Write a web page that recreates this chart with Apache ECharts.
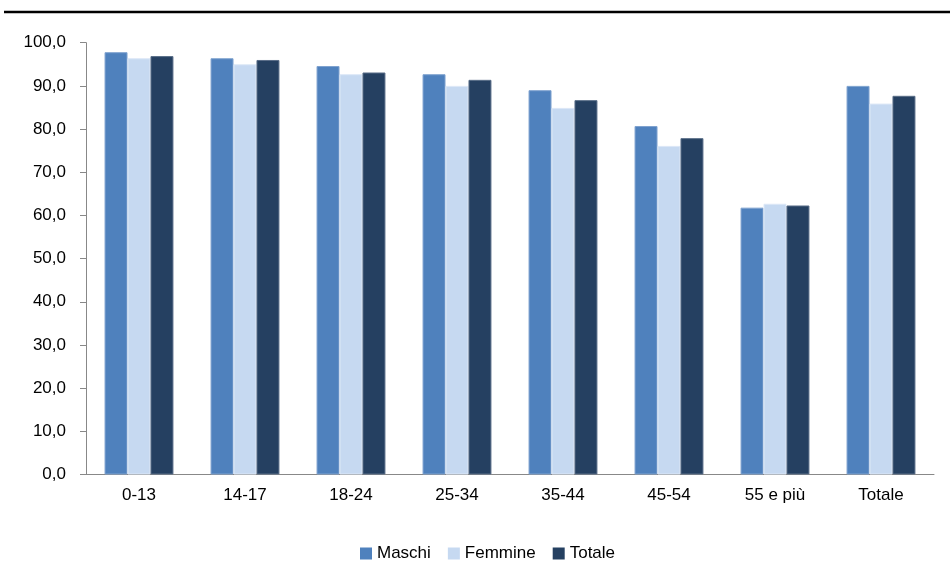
<!DOCTYPE html>
<html>
<head>
<meta charset="utf-8">
<script src="https://cdn.jsdelivr.net/npm/echarts@6/dist/echarts.min.js"></script>
<style>html,body{margin:0;padding:0;background:#fff}#c{width:950px;height:583px}</style>
</head>
<body>
<div id="c"></div>
<script>
const categories = ['0-13', '14-17', '18-24', '25-34', '35-44', '45-54', '55 e più', 'Totale'];
const maschi   = [97.8, 96.4, 94.6, 92.7, 89.0, 80.7, 61.8, 90.0];
const femmine  = [96.4, 95.0, 92.7, 90.0, 84.9, 76.1, 62.7, 85.9];
const totale   = [96.9, 96.0, 93.1, 91.4, 86.7, 77.9, 62.3, 87.7];
const seriesNames = ['Maschi', 'Femmine', 'Totale'];

const FONT = '"Liberation Sans", Arial, sans-serif';
const FS = 17;
const chart = echarts.init(document.getElementById('c'), null, {renderer: 'canvas'});
const colors = ['#4F81BD', '#C6D9F1', '#254061'];
const borders = ['#7EA2CF', '#DCE7F6', '#5A6E88'];
const data = [maschi, femmine, totale];

chart.setOption({
  animation: false,
  backgroundColor: '#fff',
  grid: {left: 86, right: 16, top: 42.7, bottom: 108.5, containLabel: false},
  legend: {
    left: 360, top: 545, padding: 0,
    itemWidth: 12, itemHeight: 12, itemGap: 17,
    icon: 'rect',
    itemStyle: {borderWidth: 0},
    textStyle: {fontFamily: FONT, fontSize: FS, color: '#000'},
    data: seriesNames
  },
  xAxis: {
    type: 'category',
    data: categories,
    axisLine: {lineStyle: {color: '#888', width: 1}},
    axisTick: {length: 5, lineStyle: {color: '#888'}},
    axisLabel: {fontFamily: FONT, fontSize: FS, color: '#000', margin: 12}
  },
  yAxis: {
    type: 'value', min: 0, max: 100, interval: 10,
    splitLine: {show: false},
    axisLine: {show: true, lineStyle: {color: '#888', width: 1}},
    axisTick: {show: true, length: 6, lineStyle: {color: '#888'}},
    axisLabel: {fontFamily: FONT, fontSize: FS, color: '#000', margin: 20,
      formatter: v => v.toFixed(1).replace('.', ',')}
  },
  graphic: [{
    type: 'line', shape: {x1: 4, y1: 12, x2: 950, y2: 12},
    style: {stroke: '#000', lineWidth: 2.5}
  }],
  series: seriesNames.map((n, i) => ({
    name: n, type: 'bar', data: data[i],
    barGap: '0%', barCategoryGap: '35%',
    itemStyle: {color: colors[i], borderColor: borders[i], borderWidth: 1}
  }))
});
</script>
</body>
</html>
